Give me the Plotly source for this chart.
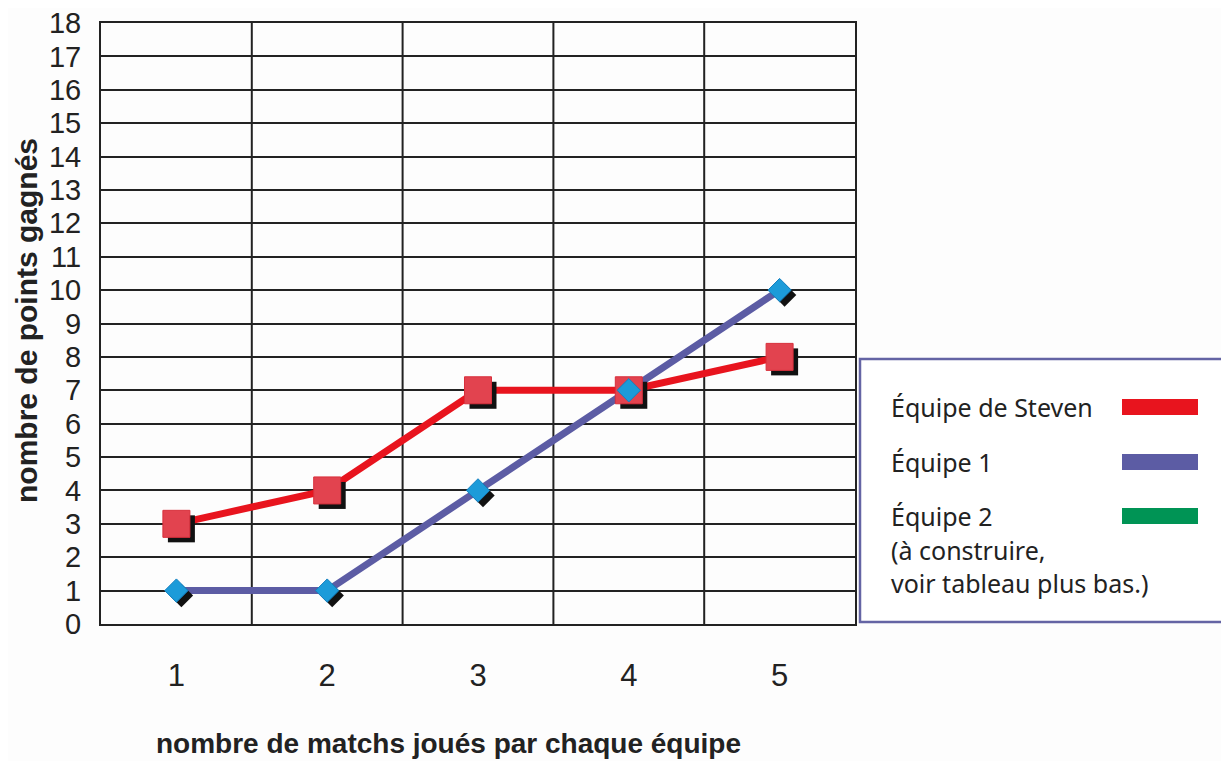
import plotly.graph_objects as go

matches = [1, 2, 3, 4, 5]
steven = [3, 4, 7, 7, 8]
equipe1 = [1, 1, 4, 7, 10]
y_ticks = list(range(0, 19))
legend_labels = ["Équipe de Steven", "Équipe 1", "Équipe 2"]
legend_note = ["(à construire,", "voir tableau plus bas.)"]

RED = "#e8141e"
PURPLE = "#5c5ca4"
GREEN = "#009455"
RED_MK = "#e2434f"
BLUE_MK = "#1c9bd9"

# page body has an 8px margin; work in page pixels and convert
OFF = 8
W, H = 1229 - OFF, 761 - OFF
L, R, T, B = 101 - OFF, 855 - OFF, 23 - OFF, 624 - OFF

def px(xpage):
    return (xpage - OFF - L) / (R - L)

def py(ypage):
    return (B - (ypage - OFF)) / (B - T)

XR = [0.5, 5.5]
YR = [0, 18]
dx = 5.0 / ((R - L) / 5.0)
dy = 5.0 / ((B - T) / 18.0)

fig = go.Figure()
# lines
fig.add_trace(go.Scatter(x=matches, y=steven, mode="lines",
                         line=dict(color=RED, width=7), xaxis="x", yaxis="y", showlegend=False))
fig.add_trace(go.Scatter(x=matches, y=equipe1, mode="lines",
                         line=dict(color=PURPLE, width=7), xaxis="x", yaxis="y", showlegend=False))
# shadows
fig.add_trace(go.Scatter(x=matches, y=steven, mode="markers",
                         marker=dict(symbol="square", size=27, color="#111"),
                         xaxis="x2", yaxis="y2", showlegend=False))
fig.add_trace(go.Scatter(x=matches, y=equipe1, mode="markers",
                         marker=dict(symbol="diamond", size=18, color="#111"),
                         xaxis="x2", yaxis="y2", showlegend=False))
# markers
fig.add_trace(go.Scatter(x=matches, y=steven, mode="markers",
                         marker=dict(symbol="square", size=27, color=RED_MK,
                                     line=dict(color="#d8303c", width=1)),
                         xaxis="x3", yaxis="y3", showlegend=False))
fig.add_trace(go.Scatter(x=matches, y=equipe1, mode="markers",
                         marker=dict(symbol="diamond", size=18, color=BLUE_MK,
                                     line=dict(color="#1580c0", width=1)),
                         xaxis="x3", yaxis="y3", showlegend=False))

FAM = "Liberation Sans, Arial, sans-serif"
ytickfont = dict(family=FAM, size=29, color="#222")
xtickfont = dict(family=FAM, size=31, color="#222")
hidden = dict(visible=False, fixedrange=True)

fig.update_layout(
    width=W, height=H,
    margin=dict(l=L, r=W - R, t=T, b=H - B),
    paper_bgcolor="#fdfdfd", plot_bgcolor="#fdfdfd",
    xaxis=dict(range=XR, tickmode="array", tickvals=matches, ticktext=[str(m) for m in matches],
               showgrid=False, zeroline=False, showline=True, mirror=True,
               linecolor="#222", linewidth=2, ticks="", tickfont=xtickfont,
               ticklabelstandoff=23, ticklabeloverflow="allow", automargin=False),
    yaxis=dict(range=YR, tickmode="array", tickvals=y_ticks, ticktext=[str(v) for v in y_ticks],
               showgrid=True, gridcolor="#222", gridwidth=2, zeroline=False,
               showline=True, mirror=True, linecolor="#222", linewidth=2,
               ticks="", tickfont=ytickfont, ticklabelstandoff=12,
               ticklabeloverflow="allow", automargin=False),
    xaxis2=dict(range=[XR[0] - dx, XR[1] - dx], overlaying="x", **hidden),
    yaxis2=dict(range=[YR[0] + dy, YR[1] + dy], overlaying="y", **hidden),
    xaxis3=dict(range=XR, overlaying="x", **hidden),
    yaxis3=dict(range=YR, overlaying="y", **hidden),
)

# vertical grid lines between categories
shapes = []
for m in matches[:-1]:
    shapes.append(dict(type="line", xref="x", yref="paper", x0=m + 0.5, x1=m + 0.5, y0=0, y1=1,
                       line=dict(color="#222", width=2), layer="below"))

# legend box
shapes.append(dict(type="rect", xref="paper", yref="paper",
                   x0=px(860), x1=px(1260), y0=py(622), y1=py(359),
                   line=dict(color="#6464a4", width=2.5), fillcolor="#ffffff"))
bar_colors = [RED, PURPLE, GREEN]
bar_y = [407, 462, 516]
for c, yy in zip(bar_colors, bar_y):
    shapes.append(dict(type="rect", xref="paper", yref="paper",
                       x0=px(1122), x1=px(1198), y0=py(yy + 8), y1=py(yy - 8),
                       line=dict(width=0), fillcolor=c))
fig.update_layout(shapes=shapes)

legfont = dict(family="Noto Sans, DejaVu Sans, sans-serif", size=25, color="#222")
ann = []
for lab, yy in zip(legend_labels, bar_y):
    ann.append(dict(text=lab, xref="paper", yref="paper", x=px(889), y=py(yy),
                    xanchor="left", yanchor="middle", showarrow=False, font=legfont))
for lab, yy in zip(legend_note, [550, 583]):
    ann.append(dict(text=lab, xref="paper", yref="paper", x=px(889), y=py(yy),
                    xanchor="left", yanchor="middle", showarrow=False, font=legfont))

ann.append(dict(text="<b>nombre de points gagnés</b>", xref="paper", yref="paper",
                x=px(26), y=py(321), textangle=-90, xanchor="center", yanchor="middle",
                showarrow=False, font=dict(family=FAM, size=30, color="#222")))
ann.append(dict(text="<b>nombre de matchs joués par chaque équipe</b>", xref="paper", yref="paper",
                x=px(448), y=py(743), xanchor="center", yanchor="middle",
                showarrow=False, font=dict(family=FAM, size=28, color="#222")))
fig.update_layout(annotations=ann)

fig.write_html("out.html")
